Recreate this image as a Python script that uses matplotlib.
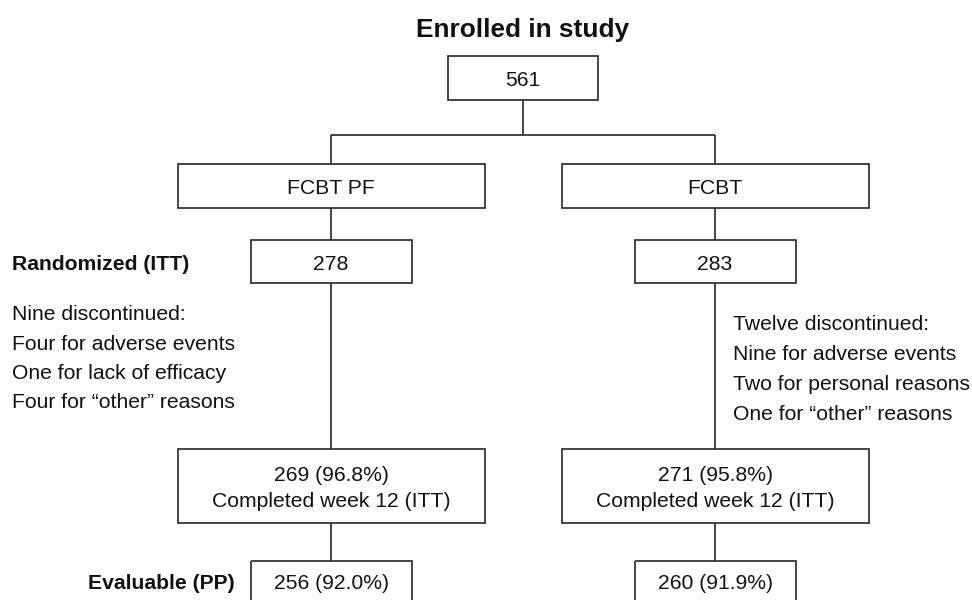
import matplotlib
matplotlib.use("Agg")
import matplotlib.pyplot as plt
from matplotlib.patches import Rectangle

plt.rcParams['font.family'] = ['Liberation Sans', 'DejaVu Sans']

title = "Enrolled in study"
enrolled = "561"
arms = ["FCBT PF", "FCBT"]
randomized = ["278", "283"]
completed = ["269 (96.8%)\nCompleted week 12 (ITT)", "271 (95.8%)\nCompleted week 12 (ITT)"]
evaluable = ["256 (92.0%)", "260 (91.9%)"]
row_labels = ["Randomized (ITT)", "Evaluable (PP)"]
discontinued = [
    ["Nine discontinued:", "Four for adverse events", "One for lack of efficacy", "Four for \u201cother\u201d reasons"],
    ["Twelve discontinued:", "Nine for adverse events", "Two for personal reasons", "One for \u201cother\u201d reasons"],
]

W, H = 972, 600
fig = plt.figure(figsize=(W / 100, H / 100), dpi=100)
ax = fig.add_axes([0, 0, 1, 1])
ax.set_xlim(0, W)
ax.set_ylim(H, 0)
ax.axis('off')

LC = '#262626'
LW = 1.2
FS = 15.2
TC = '#111111'
DY = 2.5  # vertical text offset

def box(x0, x1, y0, y1, text, fs=FS, ty=None):
    ax.add_patch(Rectangle((x0, y0), x1 - x0, y1 - y0, fill=False, ec=LC, lw=LW))
    if text:
        yy = (y0 + y1) / 2 if ty is None else ty
        ax.text((x0 + x1) / 2, yy + DY, text,
                ha='center', va='center', fontsize=fs, color=TC, linespacing=1.45)

def line(x0, y0, x1, y1):
    ax.plot([x0, x1], [y0, y1], color=LC, lw=LW, solid_capstyle='butt')

ax.text(523, 28 + DY, title, ha='center', va='center', fontsize=18.9, fontweight='bold', color=TC)

box(448, 598, 56, 100, enrolled)
line(523, 100, 523, 135)
centers = [331, 715]
line(centers[0], 135, centers[1], 135)

half_wide = 153.5
half_narrow = 80.5
for i, cx in enumerate(centers):
    line(cx, 135, cx, 164)
    box(cx - half_wide, cx + half_wide, 164, 208, arms[i])
    line(cx, 208, cx, 240)
    box(cx - half_narrow, cx + half_narrow, 240, 283, randomized[i])
    line(cx, 283, cx, 449)
    box(cx - half_wide, cx + half_wide, 449, 523, completed[i], ty=486)
    line(cx, 523, cx, 561)
    box(cx - half_narrow, cx + half_narrow, 561, 615, evaluable[i], ty=581)

ax.text(12, 263 + DY - 1, row_labels[0], ha='left', va='center', fontsize=FS, fontweight='bold', color=TC)
ax.text(235, 581 + DY, row_labels[1], ha='right', va='center', fontsize=FS, fontweight='bold', color=TC)

for j, t in enumerate(discontinued[0]):
    ax.text(12, 312 + DY + 29.5 * j, t, ha='left', va='center', fontsize=FS, color=TC)
for j, t in enumerate(discontinued[1]):
    ax.text(733, 322 + DY + 30 * j, t, ha='left', va='center', fontsize=FS, color=TC)

fig.savefig("out.png", dpi=100)
